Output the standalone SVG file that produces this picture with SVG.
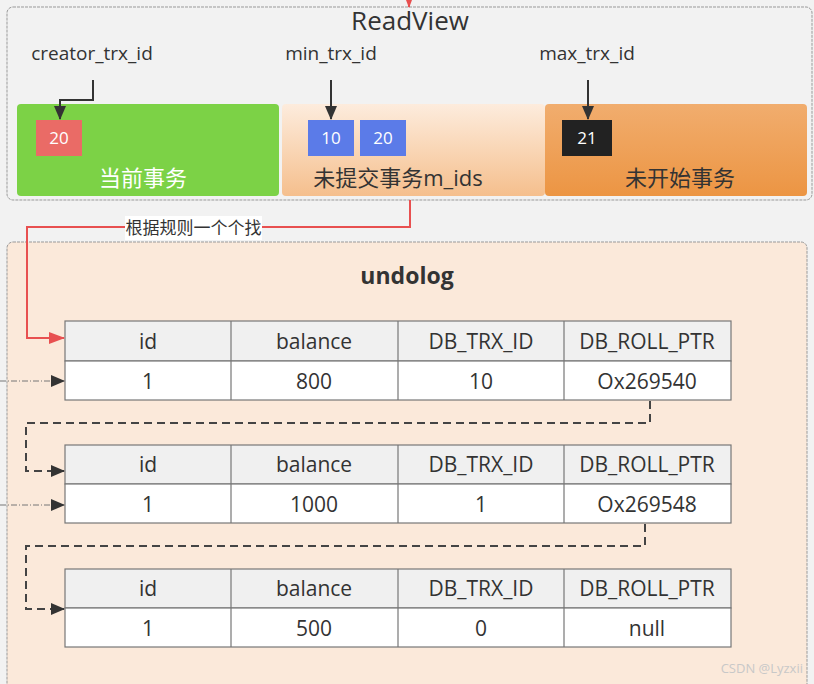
<svg xmlns="http://www.w3.org/2000/svg" width="814" height="684" viewBox="0 0 814 684">
<defs>
<linearGradient id="gPeach" x1="0" y1="0" x2="0" y2="1"><stop offset="0" stop-color="#fdecdd"/><stop offset="1" stop-color="#f5bf8d"/></linearGradient>
<linearGradient id="gOrange" x1="0" y1="0" x2="0" y2="1"><stop offset="0" stop-color="#f1ad6e"/><stop offset="1" stop-color="#ec9543"/></linearGradient>
<marker id="aBig" markerWidth="14" markerHeight="12" refX="13" refY="6" orient="auto" markerUnits="userSpaceOnUse"><path d="M0,0 L14,6 L0,12 Z" fill="#333"/></marker>
<marker id="aRed" markerWidth="16" markerHeight="12" refX="15" refY="6" orient="auto" markerUnits="userSpaceOnUse"><path d="M0,0 L16,6 L0,12 Z" fill="#e85050"/></marker>
</defs>
<style>
text{font-family:"Open Sans","Noto Sans","Noto Sans CJK SC",sans-serif;fill:#333;}
.lbl{font-size:19px;text-anchor:middle;}
.cell{font-size:21px;text-anchor:middle;}
.num{font-size:17px;fill:#fff;text-anchor:middle;}
.box{font-size:22px;text-anchor:middle;}
.grp{stroke:#999;stroke-dasharray:3 1;stroke-width:1;}
.hd{fill:#f0f0f0;stroke:#777;stroke-width:1.2;}
.rw{fill:#fff;stroke:#777;stroke-width:1.2;}
.blk{stroke:#333;stroke-width:2;fill:none;}
.dsh{stroke:#444;stroke-width:2;fill:none;stroke-dasharray:8 5;}
.dd{stroke:#777;stroke-width:1;fill:none;stroke-dasharray:6 2 1 2;}
</style>
<rect width="814" height="684" fill="#f2f2f2"/>
<g id="readview">
<rect x="7" y="7" width="805" height="193" rx="6" fill="#f2f2f2" class="grp"/>
<text x="410" y="30" font-size="26" text-anchor="middle">ReadView</text>
</g>
<g id="undolog">
<rect x="7" y="242" width="800" height="450" rx="6" fill="#fbe9da" class="grp"/>
<text x="407" y="284" font-size="23" font-weight="bold" text-anchor="middle">undolog</text>
</g>
<g id="current">
<rect x="17" y="104" width="262" height="92" rx="4" fill="#7cd246"/>
<rect x="36" y="120" width="46" height="36" fill="#ea6b66"/>
<text class="num" x="59" y="144">20</text>
<text class="box" x="143" y="186" style="fill:#fff">当前事务</text>
</g>
<g id="uncommitted">
<rect x="282" y="104" width="263" height="92" rx="4" fill="url(#gPeach)"/>
<rect x="308" y="120" width="46" height="36" fill="#5b7be8"/>
<text class="num" x="331" y="144">10</text>
<rect x="360" y="120" width="46" height="36" fill="#5b7be8"/>
<text class="num" x="383" y="144">20</text>
<text class="box" x="398" y="186">未提交事务m_ids</text>
</g>
<g id="notstarted">
<rect x="545" y="104" width="262" height="92" rx="4" fill="url(#gOrange)"/>
<rect x="562" y="120" width="50" height="36" fill="#222"/>
<text class="num" x="587" y="144">21</text>
<text class="box" x="680" y="186">未开始事务</text>
</g>
<g id="labels">
<text class="lbl" x="92" y="60">creator_trx_id</text>
<text class="lbl" x="331" y="60">min_trx_id</text>
<text class="lbl" x="587" y="60">max_trx_id</text>
<text x="803" y="673" font-size="13" text-anchor="end" style="fill:#c8c8c8">CSDN @Lyzxii</text>
</g>
<g id="table1">
<rect class="hd" x="65" y="321" width="666" height="40"/>
<rect class="rw" x="65" y="361" width="666" height="39"/>
<path d="M231,321V400M398,321V400M564,321V400" stroke="#777" stroke-width="1.2"/>
<text class="cell" x="148" y="349">id</text><text class="cell" x="314" y="349">balance</text><text class="cell" x="481" y="349">DB_TRX_ID</text><text class="cell" x="647" y="349">DB_ROLL_PTR</text>
<text class="cell" x="148" y="389">1</text><text class="cell" x="314" y="389">800</text><text class="cell" x="481" y="389">10</text><text class="cell" x="647" y="389">Ox269540</text>
</g>
<g id="table2">
<rect class="hd" x="65" y="445" width="666" height="39"/>
<rect class="rw" x="65" y="484" width="666" height="39"/>
<path d="M231,445V523M398,445V523M564,445V523" stroke="#777" stroke-width="1.2"/>
<text class="cell" x="148" y="472">id</text><text class="cell" x="314" y="472">balance</text><text class="cell" x="481" y="472">DB_TRX_ID</text><text class="cell" x="647" y="472">DB_ROLL_PTR</text>
<text class="cell" x="148" y="512">1</text><text class="cell" x="314" y="512">1000</text><text class="cell" x="481" y="512">1</text><text class="cell" x="647" y="512">Ox269548</text>
</g>
<g id="table3">
<rect class="hd" x="65" y="569" width="666" height="39"/>
<rect class="rw" x="65" y="608" width="666" height="39"/>
<path d="M231,569V647M398,569V647M564,569V647" stroke="#777" stroke-width="1.2"/>
<text class="cell" x="148" y="596">id</text><text class="cell" x="314" y="596">balance</text><text class="cell" x="481" y="596">DB_TRX_ID</text><text class="cell" x="647" y="596">DB_ROLL_PTR</text>
<text class="cell" x="148" y="636">1</text><text class="cell" x="314" y="636">500</text><text class="cell" x="481" y="636">0</text><text class="cell" x="647" y="636">null</text>
</g>
<g id="connectors">
<path class="blk" d="M93,80V100H60V119" marker-end="url(#aBig)"/>
<path class="blk" d="M331,80V119" marker-end="url(#aBig)"/>
<path class="blk" d="M588,80V119" marker-end="url(#aBig)"/>
<path d="M409,-4V7" stroke="#e85050" stroke-width="2" fill="none" marker-end="url(#aRed)"/>
<path d="M410,200V227H27V338H64" stroke="#e85050" stroke-width="2" fill="none" marker-end="url(#aRed)"/>
<rect x="125" y="216" width="137" height="24" fill="#fff"/>
<text x="193.5" y="234" font-size="17" text-anchor="middle">根据规则一个个找</text>
<path class="dsh" d="M650,401V423H26V471H64" marker-end="url(#aBig)"/>
<path class="dsh" d="M645,524V546H26V609H64" marker-end="url(#aBig)"/>
<path class="dd" d="M0,381H64" marker-end="url(#aBig)"/>
<path class="dd" d="M0,505H64" marker-end="url(#aBig)"/>
</g>
</svg>
